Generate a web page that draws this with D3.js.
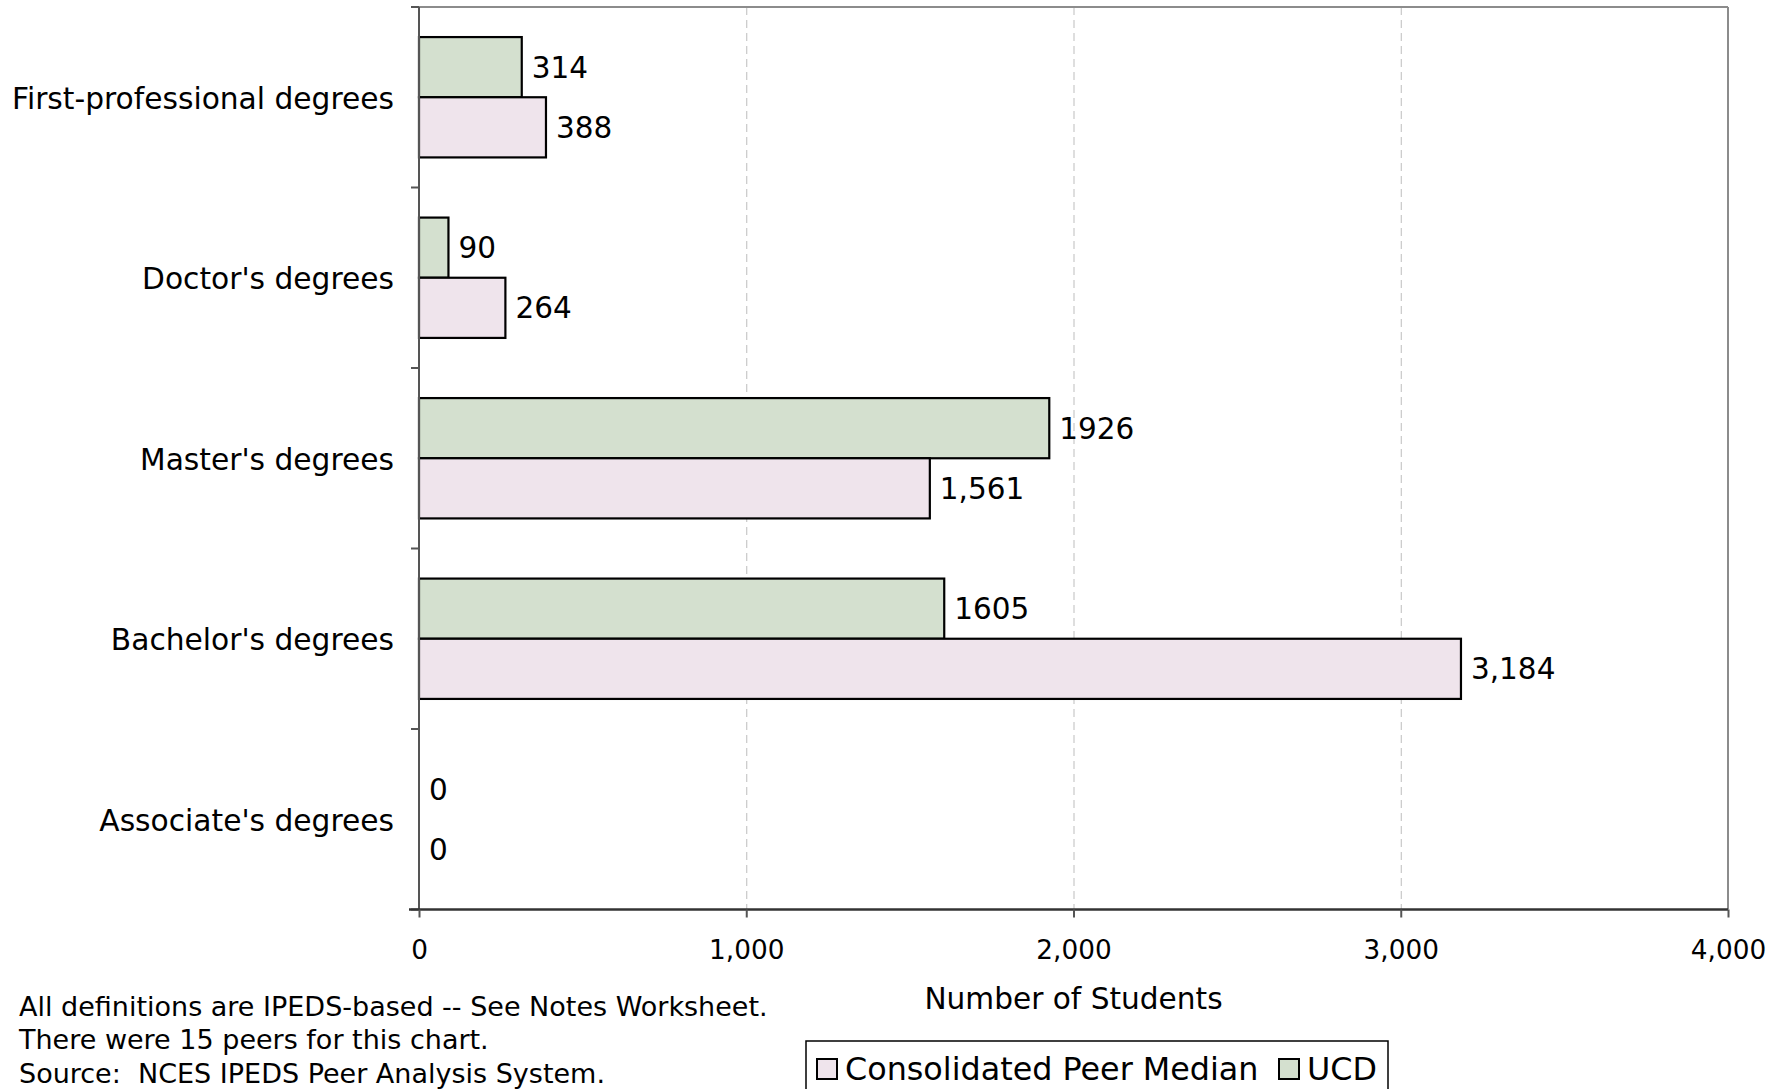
<!DOCTYPE html>
<html><head><meta charset="utf-8">
<script src="https://cdn.jsdelivr.net/npm/d3@7"></script>
<style>
html,body{margin:0;padding:0;background:#fff;}
svg{display:block;font-family:"DejaVu Sans",Verdana,sans-serif;}
text{white-space:pre;}
</style></head>
<body>
<svg id="chart" width="1787" height="1089"></svg>
<script>
const categories = ["First-professional degrees","Doctor's degrees","Master's degrees","Bachelor's degrees","Associate's degrees"];
const ucdValues = [314, 90, 1926, 1605, 0];
const peerValues = [388, 264, 1561, 3184, 0];
const ucdLabels = ["314","90","1926","1605","0"];
const peerLabels = ["388","264","1,561","3,184","0"];
const xTicks = [0, 1000, 2000, 3000, 4000];
const seriesNames = ["UCD","Consolidated Peer Median"];
const legendOrder = ["Consolidated Peer Median","UCD"];
const footnotes = ["All definitions are IPEDS-based -- See Notes Worksheet.","There were 15 peers for this chart.","Source:  NCES IPEDS Peer Analysis System."];
const xTitle = "Number of Students";

const colors = {"UCD":"#d4e0cf","Consolidated Peer Median":"#efe4ec"};
const svg = d3.select("#chart");
const L = 419, R = 1728, T = 7, B = 909.5;

const x = d3.scaleLinear().domain([0,4000]).range([L,R]);
const y = d3.scaleBand().domain(categories).range([T,B]).paddingInner(1/3).paddingOuter(1/6);
const sub = d3.scaleBand().domain(seriesNames).range([0,y.bandwidth()]);

// gridlines
svg.append("g").selectAll("line").data(xTicks.filter(d=>d>0&&d<4000)).join("line")
  .attr("x1",d=>x(d)+0.5).attr("x2",d=>x(d)+0.5).attr("y1",T).attr("y2",B)
  .attr("stroke","#bdbdbd").attr("stroke-width",1).attr("stroke-dasharray","8,5");

// plot border top & right
svg.append("line").attr("x1",L).attr("x2",R).attr("y1",T).attr("y2",T).attr("stroke","#8c8c8c").attr("stroke-width",2);
svg.append("line").attr("x1",R).attr("x2",R).attr("y1",T).attr("y2",B).attr("stroke","#8c8c8c").attr("stroke-width",2);

// bars
const rows = categories.map((c,i)=>({c, vals:[{s:"UCD",v:ucdValues[i],l:ucdLabels[i]},{s:"Consolidated Peer Median",v:peerValues[i],l:peerLabels[i]}]}));
const g = svg.append("g").selectAll("g").data(rows).join("g").attr("transform",d=>`translate(0,${y(d.c)})`);
g.selectAll("rect").data(d=>d.vals.filter(v=>v.v>0)).join("rect")
  .attr("x",x(0)).attr("y",d=>sub(d.s)).attr("width",d=>x(d.v)-x(0)).attr("height",sub.bandwidth())
  .attr("fill",d=>colors[d.s]).attr("stroke","#000").attr("stroke-width",2.2);
g.selectAll("text").data(d=>d.vals).join("text")
  .attr("x",d=>x(d.v)+10).attr("y",d=>sub(d.s)+sub.bandwidth()/2).attr("dy","0.36em")
  .attr("font-size",29.5).attr("fill","#000").text(d=>d.l);

// y axis
const yAxis = svg.append("g").attr("transform",`translate(${L},0)`);
yAxis.append("line").attr("x1",0).attr("x2",0).attr("y1",T).attr("y2",B).attr("stroke","#555").attr("stroke-width",2);
const bounds = categories.map(c=>y(c)-y.step()*(1/6)).concat([B]);
yAxis.selectAll(".yt").data(bounds).join("line").attr("class","yt")
  .attr("x1",-8).attr("x2",0).attr("y1",d=>d).attr("y2",d=>d).attr("stroke","#555").attr("stroke-width",2);
yAxis.selectAll("text").data(categories).join("text")
  .attr("x",-25).attr("y",d=>y(d)+y.bandwidth()/2+1).attr("dy","0.36em").attr("text-anchor","end")
  .attr("font-size",29.7).attr("fill","#000").text(d=>d);

// x axis
const xAxis = d3.axisBottom(x).tickValues(xTicks).tickSize(8).tickFormat(d3.format(","));
const xg = svg.append("g").attr("transform",`translate(0,${B})`).call(xAxis);
xg.select(".domain").attr("stroke","#333").attr("stroke-width",2.5).attr("d",`M${L-10},0H${R}`);
xg.selectAll(".tick line").attr("stroke","#555").attr("stroke-width",2);
xg.selectAll(".tick text").attr("font-size",26.3).attr("font-family","DejaVu Sans").attr("fill","#000").attr("y",40).attr("dy","0.36em");

svg.append("text").attr("x",(x(1000)+x(3000))/2+0).attr("y",998).attr("dy","0.36em").attr("text-anchor","middle")
  .attr("font-size",29.6).attr("fill","#000").text(xTitle);

// footnotes
svg.append("g").selectAll("text").data(footnotes).join("text")
  .attr("x",19).attr("y",(d,i)=>1006+i*33.5).attr("dy","0.36em").attr("font-size",27).attr("fill","#000").text(d=>d);

// legend
const lg = svg.append("g");
lg.append("rect").attr("x",806).attr("y",1041).attr("width",582).attr("height",60).attr("fill","#fff").attr("stroke","#000").attr("stroke-width",1.5);
const legX = [817, 1279];
legendOrder.forEach((s,i)=>{
  lg.append("rect").attr("x",legX[i]).attr("y",1059).attr("width",20).attr("height",20).attr("fill",colors[s]).attr("stroke","#000").attr("stroke-width",2);
  lg.append("text").attr("x",legX[i]+28).attr("y",1069).attr("dy","0.36em").attr("font-size",31.8).attr("fill","#000").text(s);
});
</script>
</body></html>
